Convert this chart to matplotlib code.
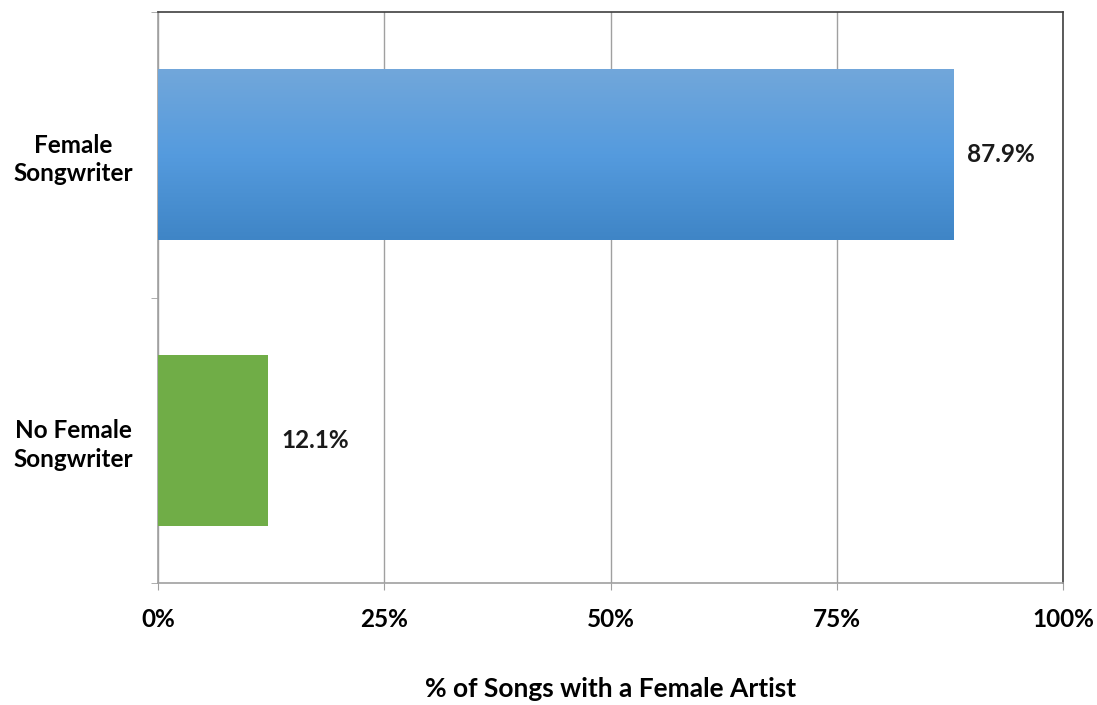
import numpy as np
import matplotlib.pyplot as plt
from matplotlib.colors import LinearSegmentedColormap

categories = ['Female\nSongwriter', 'No Female\nSongwriter']
shares = [87.9, 12.1]
x_ticks = [0, 25, 50, 75, 100]
x_tick_labels = ['0%', '25%', '50%', '75%', '100%']

plt.rcParams['font.family'] = ['Lato', 'DejaVu Sans']
plt.rcParams['font.weight'] = 'bold'

fig = plt.figure(figsize=(10.97, 7.05), dpi=100)
ax = fig.add_axes([158 / 1097, 1 - 583 / 705, (1063 - 158) / 1097, (583 - 12) / 705])

pos = np.arange(len(categories))
bars = ax.barh(pos, shares, height=0.6, color=['#5B9BD5', '#70AD47'], zorder=3)

# vertical gradient on the blue bar (light at top, darker at bottom)
blue = bars[0]
blue.set_facecolor('none')
grad = LinearSegmentedColormap.from_list('b', ['#72A7DA', '#559BDE', '#3F85C6'])
x0, y0 = blue.get_x(), blue.get_y()
w, h = blue.get_width(), blue.get_height()
img = ax.imshow(np.linspace(0, 1, 256).reshape(-1, 1), cmap=grad, aspect='auto',
                extent=[x0, x0 + w, y0, y0 + h], origin='lower', zorder=3)
img.set_clip_path(blue)

ax.set_xlim(0, 100)
ax.set_ylim(len(categories) - 0.5, -0.5)

for b, v in zip(bars, shares):
    ax.text(v + 1.5, b.get_y() + b.get_height() / 2, f'{v:.1f}%',
            va='center', ha='left', fontsize=17.5, fontweight='bold', color='#1a1a1a')

ax.set_xticks(x_ticks)
ax.set_xticklabels(x_tick_labels)
ax.set_yticks(pos)
ax.set_yticklabels(categories, multialignment='center', linespacing=1.3)
ax.set_yticks([-0.5, 0.5, 1.5], minor=True)
ax.tick_params(axis='y', which='major', length=0, pad=18, labelsize=17.5)
ax.tick_params(axis='y', which='minor', length=5, color='#A0A0A0', direction='out')
ax.tick_params(axis='x', length=5, color='#A0A0A0', pad=13, labelsize=17.5)

ax.grid(axis='x', color='#A0A0A0', linewidth=1, zorder=0)
for s in ['left', 'bottom']:
    ax.spines[s].set_color('#A0A0A0')
    ax.spines[s].set_linewidth(1.2)
for s in ['top', 'right']:
    ax.spines[s].set_color('#404040')
    ax.spines[s].set_linewidth(1.2)

ax.set_xlabel('% of Songs with a Female Artist', fontsize=19, fontweight='bold', labelpad=33)

fig.savefig('out.png', dpi=100)
